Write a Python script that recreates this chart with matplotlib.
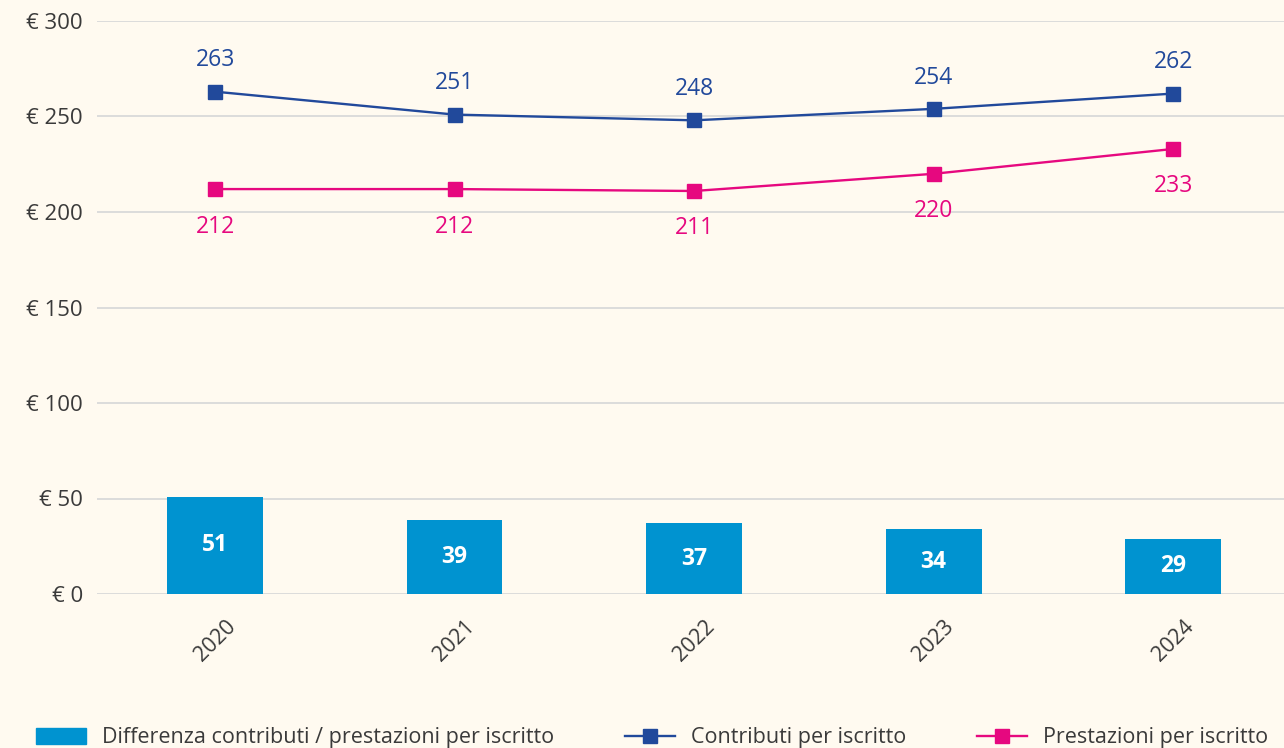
import numpy as np
import matplotlib
matplotlib.use('Agg')
import matplotlib.pyplot as plt
from matplotlib.lines import Line2D
from matplotlib.patches import Patch

years = ['2020', '2021', '2022', '2023', '2024']
contributi = [263, 251, 248, 254, 262]
prestazioni = [212, 212, 211, 220, 233]
differenza = [51, 39, 37, 34, 29]
yticks = [0, 50, 100, 150, 200, 250, 300]

bg = '#FFFAF0'
c_bar = '#0093D0'
c_blue = '#21499B'
c_pink = '#E6087F'
c_text = '#3A3A3A'

plt.rcParams['font.family'] = ['Open Sans', 'DejaVu Sans']

fig = plt.figure(figsize=(12.84, 7.48), dpi=100, facecolor=bg)
ax = fig.add_axes([97 / 1284, (748 - 594) / 748, 1 - 97 / 1284, (594 - 21) / 748])
ax.set_facecolor(bg)

x = np.arange(len(years))
ax.bar(x, differenza, width=0.4, color=c_bar, zorder=2)
for xi, v in zip(x, differenza):
    ax.text(xi, v / 2, str(v), ha='center', va='center', color='white',
            fontsize=16.5, fontweight='bold', zorder=3)

ax.plot(x, contributi, color=c_blue, lw=1.7, marker='s', ms=10.5, zorder=4)
ax.plot(x, prestazioni, color=c_pink, lw=1.7, marker='s', ms=10.5, zorder=4)
for xi, v in zip(x, contributi):
    ax.annotate(str(v), (xi, v), xytext=(0, 22.5), textcoords='offset points',
                ha='center', va='center', color=c_blue, fontsize=16.5)
for xi, v in zip(x, prestazioni):
    ax.annotate(str(v), (xi, v), xytext=(0, -27), textcoords='offset points',
                ha='center', va='center', color=c_pink, fontsize=16.5)

ax.set_ylim(0, 300)
ax.set_xlim(-0.493, 4.463)
ax.set_yticks(yticks)
ax.set_yticklabels(['€ %d' % t for t in yticks], color=c_text, fontsize=16)
ax.set_xticks(x)
ax.set_xticklabels(years, rotation=45, color=c_text, fontsize=15.5,
                   ha='center', va='top', rotation_mode='default')
ax.tick_params(length=0, axis='y', pad=10)
ax.tick_params(length=0, axis='x', pad=16)
ax.grid(axis='y', color='#D9D9D9', lw=1.3, zorder=0)
ax.set_axisbelow(True)
for s in ax.spines.values():
    s.set_visible(False)

handles = [
    Patch(color=c_bar),
    Line2D([0], [0], color=c_blue, lw=1.7, marker='s', ms=10.5),
    Line2D([0], [0], color=c_pink, lw=1.7, marker='s', ms=10.5),
]
labels = ['Differenza contributi / prestazioni per iscritto',
          'Contributi per iscritto', 'Prestazioni per iscritto']
leg = fig.legend(handles, labels, loc='center', bbox_to_anchor=(0.508, 10 / 748),
                 ncol=3, frameon=False, fontsize=15.5, handlelength=2.3,
                 handleheight=0.75, columnspacing=3.3, handletextpad=0.75,
                 labelcolor=c_text, borderaxespad=0)

fig.savefig('out.png', dpi=100, facecolor=bg)
